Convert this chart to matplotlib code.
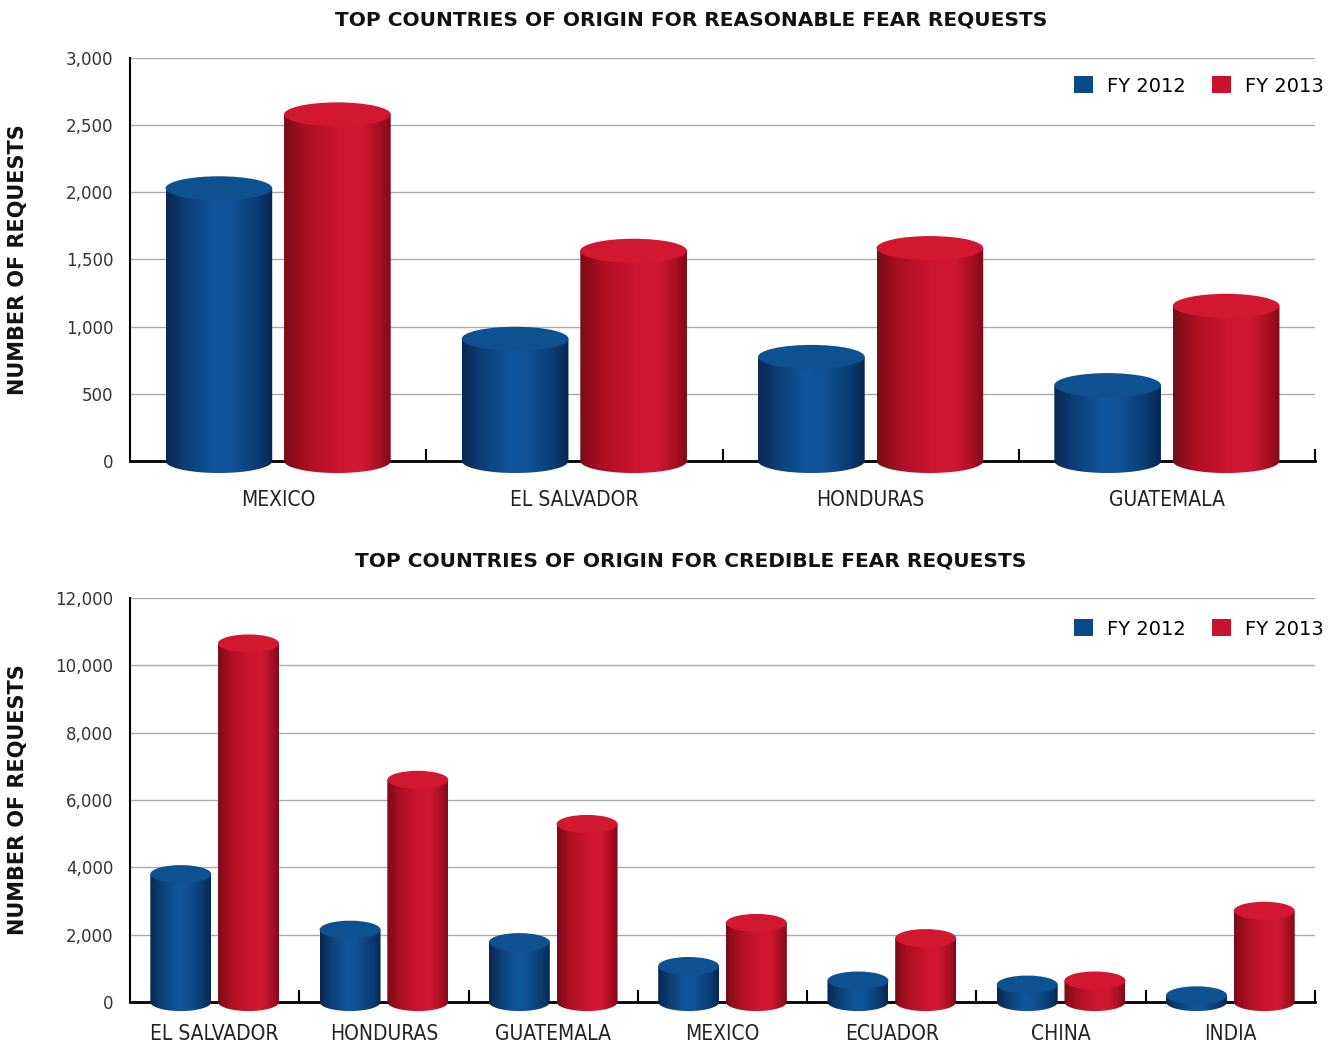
import numpy as np
import matplotlib
matplotlib.use("Agg")
import matplotlib.pyplot as plt
from matplotlib.patches import Polygon, Ellipse, Patch
from matplotlib.colors import LinearSegmentedColormap

# ---------------- data ----------------
reasonable_countries = ["MEXICO", "EL SALVADOR", "HONDURAS", "GUATEMALA"]
reasonable_fy2012 = [2030, 910, 775, 565]
reasonable_fy2013 = [2580, 1565, 1585, 1155]

credible_countries = ["EL SALVADOR", "HONDURAS", "GUATEMALA", "MEXICO", "ECUADOR", "CHINA", "INDIA"]
credible_fy2012 = [3800, 2150, 1780, 1070, 640, 520, 200]
credible_fy2013 = [10650, 6600, 5290, 2350, 1900, 640, 2710]

series_labels = ["FY 2012", "FY 2013"]

reasonable_yticks = [0, 500, 1000, 1500, 2000, 2500, 3000]
credible_yticks = [0, 2000, 4000, 6000, 8000, 10000, 12000]

# ---------------- style ----------------
W, H = 1335, 1046
DPI = 100
BLUE = "#0b4a86"
RED = "#cc1030"
blue_cmap = LinearSegmentedColormap.from_list(
    "b", [(0, "#08284f"), (0.18, "#0c3e76"), (0.45, "#10569c"), (0.62, "#0f5194"),
          (0.86, "#0b3c73"), (1, "#072750")])
red_cmap = LinearSegmentedColormap.from_list(
    "r", [(0, "#7a0b18"), (0.2, "#ab0f22"), (0.5, "#cc1530"), (0.72, "#d01832"),
          (0.9, "#a80f22"), (1, "#7e0b19")])
BLUE_TOP = "#0d5190"
RED_TOP = "#d21731"

plt.rcParams["font.family"] = ["DejaVu Sans"]

fig = plt.figure(figsize=(W / DPI, H / DPI), dpi=DPI)
fig.patch.set_facecolor("white")


def cylinder_chart(ax, cats, v12, v13, yticks, ymin, ell_px, title, title_y,
                   label_pad, legend_y):
    n = len(cats)
    x = np.arange(n)
    ymax = yticks[-1]
    ax.set_xlim(-0.5, n - 0.5)
    ax.set_ylim(ymin, ymax)

    bbox = ax.get_position()
    ax_h_px = bbox.height * H
    ell_h = ell_px * (ymax - ymin) / ax_h_px

    bw = 0.36
    off = 0.2
    grad = np.linspace(0, 1, 256).reshape(1, -1)
    for vals, dx, cmap, topc, lab in [(v12, -off, blue_cmap, BLUE_TOP, series_labels[0]),
                                       (v13, off, red_cmap, RED_TOP, series_labels[1])]:
        bars = ax.bar(x + dx, vals, width=bw, color=cmap(0.5), zorder=4, label=lab)
        for b in bars:
            x0 = b.get_x()
            x1 = x0 + b.get_width()
            xc = (x0 + x1) / 2
            v = b.get_height()
            t = np.linspace(np.pi, 2 * np.pi, 60)
            arc = np.column_stack([xc + (x1 - x0) / 2 * np.cos(t), ell_h / 2 * np.sin(t)])
            pts = np.vstack([[x0, v], arc, [x1, v]])
            poly = Polygon(pts, closed=True, facecolor="none", edgecolor="none",
                           transform=ax.transData)
            ax.add_patch(poly)
            b.set_visible(False)
            im = ax.imshow(grad, cmap=cmap, aspect="auto",
                           extent=(x0, x1, -ell_h, v), zorder=5,
                           interpolation="bilinear")
            im.set_clip_path(poly)
            top = Ellipse((xc, v), width=(x1 - x0), height=ell_h, facecolor=topc,
                          edgecolor="none", zorder=6)
            ax.add_patch(top)
    ax.set_xlim(-0.5, n - 0.5)
    ax.set_ylim(ymin, ymax)

    for s in ["top", "right"]:
        ax.spines[s].set_visible(False)
    ax.spines["bottom"].set_position(("data", 0))
    ax.spines["bottom"].set_linewidth(2)
    ax.spines["bottom"].set_color("black")
    ax.spines["bottom"].set_zorder(3)
    ax.spines["left"].set_bounds(0, ymax)
    ax.spines["left"].set_linewidth(1.5)
    ax.spines["left"].set_color("black")

    ax.set_yticks(yticks)
    ax.set_yticklabels([f"{t:,}" for t in yticks], fontsize=12, color="#333333")
    ax.tick_params(axis="y", length=0, pad=12)
    ax.yaxis.grid(True, color="#aaaaaa", linewidth=1)
    ax.set_axisbelow(True)

    ax.set_xticks(x)
    ax.set_xticklabels(cats, fontsize=15, color="#222222", fontstretch="condensed")
    ax.tick_params(axis="x", which="major", length=0, pad=label_pad)
    ax.set_xticks(np.arange(n) + 0.5, minor=True)
    ax.tick_params(axis="x", which="minor", direction="in", length=9, width=1.5,
                   color="black")

    handles = [Patch(facecolor=BLUE, edgecolor="none"), Patch(facecolor=RED, edgecolor="none")]
    ax.legend(handles, series_labels, loc="center right", ncol=2, frameon=False,
              bbox_to_anchor=(1324 / W, legend_y), bbox_transform=fig.transFigure,
              fontsize=14, handlelength=0.95, handleheight=0.95, handletextpad=0.75,
              columnspacing=1.35, borderaxespad=0, borderpad=0)
    fig.text(691 / W, title_y, title, ha="center", va="center", fontsize=14.5,
             fontweight="heavy", color="#111111")
    yc = bbox.y0 + bbox.height * (0 - ymin) / (ymax - ymin)
    fig.text(18 / W, (yc + bbox.y1) / 2, "NUMBER OF REQUESTS", rotation=90,
             ha="center", va="center", fontsize=15, fontweight="heavy", color="#111111")


ax1 = fig.add_axes([130 / W, 0.5400, 1185 / W, 0.4046])
cylinder_chart(ax1, reasonable_countries, reasonable_fy2012, reasonable_fy2013,
               reasonable_yticks, -150, 24,
               "TOP COUNTRIES OF ORIGIN FOR REASONABLE FEAR REQUESTS", 1 - 20 / H,
               21, 1 - 86 / H)

ax2 = fig.add_axes([130 / W, 0.0227, 1185 / W, 0.4056])
cylinder_chart(ax2, credible_countries, credible_fy2012, credible_fy2013,
               credible_yticks, -600, 18,
               "TOP COUNTRIES OF ORIGIN FOR CREDIBLE FEAR REQUESTS", 1 - 561 / H,
               16, 1 - 629 / H)

fig.savefig("out.png", dpi=DPI, facecolor="white")
